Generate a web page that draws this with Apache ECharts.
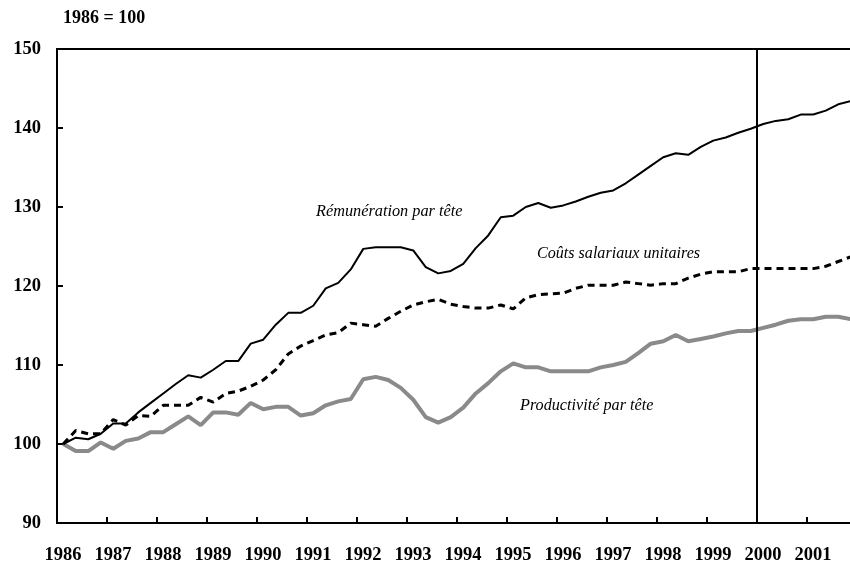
<!DOCTYPE html>
<html>
<head>
<meta charset="utf-8">
<script src="https://cdn.jsdelivr.net/npm/echarts@6/dist/echarts.min.js"></script>
<style>
html,body{margin:0;padding:0;background:#fff;}
#chart{width:850px;height:568px;}
</style>
</head>
<body>
<div id="chart"></div>
<script>
// Quarterly data, 1986Q1 .. 2001Q4
var startYear = 1986;
var yearTicks = ['1986','1987','1988','1989','1990','1991','1992','1993','1994','1995','1996','1997','1998','1999','2000','2001'];

var remuneration = [
  100.0, 100.8, 100.6, 101.3, 102.6, 102.6, 104.0, 105.2, 106.4, 107.6, 108.7, 108.4, 109.4, 110.5, 110.5, 112.7,
  113.2, 115.1, 116.6, 116.6, 117.5, 119.7, 120.4, 122.1, 124.7, 124.9, 124.9, 124.9, 124.5, 122.4, 121.6, 121.9,
  122.8, 124.8, 126.4, 128.7, 128.9, 130.0, 130.5, 129.9, 130.2, 130.7, 131.3, 131.8, 132.1, 133.0, 134.1, 135.2,
  136.3, 136.8, 136.6, 137.6, 138.4, 138.8, 139.4, 139.9, 140.5, 140.9, 141.1, 141.7, 141.7, 142.2, 143.0, 143.4
];
var coutsSalariaux = [
  100.0, 101.7, 101.3, 101.3, 103.1, 102.4, 103.6, 103.5, 104.9, 104.9, 104.9, 105.9, 105.3, 106.4, 106.7, 107.3,
  108.1, 109.4, 111.4, 112.4, 113.1, 113.8, 114.1, 115.3, 115.1, 114.9, 115.9, 116.8, 117.6, 118.0, 118.3, 117.7,
  117.4, 117.2, 117.2, 117.6, 117.1, 118.5, 118.9, 119.0, 119.1, 119.7, 120.1, 120.1, 120.1, 120.5, 120.3, 120.1,
  120.3, 120.3, 121.0, 121.5, 121.8, 121.8, 121.8, 122.2, 122.2, 122.2, 122.2, 122.2, 122.2, 122.5, 123.1, 123.7
];
var productivite = [
  100.0, 99.1, 99.1, 100.2, 99.4, 100.4, 100.7, 101.5, 101.5, 102.5, 103.5, 102.4, 104.0, 104.0, 103.7, 105.2,
  104.4, 104.7, 104.7, 103.6, 103.9, 104.9, 105.4, 105.7, 108.2, 108.5, 108.1, 107.1, 105.6, 103.4, 102.7, 103.4,
  104.6, 106.4, 107.7, 109.2, 110.2, 109.7, 109.7, 109.2, 109.2, 109.2, 109.2, 109.7, 110.0, 110.4, 111.5, 112.7,
  113.0, 113.8, 113.0, 113.3, 113.6, 114.0, 114.3, 114.3, 114.7, 115.1, 115.6, 115.8, 115.8, 116.1, 116.1, 115.8
];
var markerYear = 2000;

function toPairs(arr){
  return arr.map(function(v,i){ return [startYear + (i + 0.5)/4, v]; });
}

var serif = '"Liberation Serif", "DejaVu Serif", serif';
var chart = echarts.init(document.getElementById('chart'), null, {renderer:'canvas'});
chart.setOption({
  animation:false,
  backgroundColor:'#ffffff',
  grid:{left:57, top:49, width:800, height:474, outerBoundsMode:'none', containLabel:false,
        show:true, borderColor:'#000', borderWidth:2, backgroundColor:'transparent'},
  xAxis:{
    type:'value', min:1986, max:2002, interval:1,
    axisLine:{show:true, onZero:false, lineStyle:{color:'#000', width:2}},
    axisTick:{show:true, inside:true, length:6, lineStyle:{color:'#000', width:2}},
    splitLine:{show:false},
    axisLabel:{
      margin:23, color:'#000', fontFamily:serif, fontWeight:'bold', fontSize:18.5,
      padding:[0,0,0,12],
      formatter:function(v){ var s=String(Math.round(v)); return yearTicks.indexOf(s)>=0 ? s : ''; }
    }
  },
  yAxis:{
    type:'value', min:90, max:150, interval:10,
    axisLine:{show:true, lineStyle:{color:'#000', width:2}},
    axisTick:{show:true, inside:true, length:6, lineStyle:{color:'#000', width:2}},
    splitLine:{show:false},
    axisLabel:{margin:16, color:'#000', fontFamily:serif, fontWeight:'bold', fontSize:18.5}
  },
  series:[
    {
      name:'Productivité par tête', type:'line', data:toPairs(productivite), showSymbol:false, symbol:'none',
      lineStyle:{color:'#8a8a8a', width:4}, z:2
    },
    {
      name:'Coûts salariaux unitaires', type:'line', data:toPairs(coutsSalariaux), showSymbol:false, symbol:'none',
      lineStyle:{color:'#000', width:3, type:[7,5]}, z:3
    },
    {
      name:'Rémunération par tête', type:'line', data:toPairs(remuneration), showSymbol:false, symbol:'none',
      lineStyle:{color:'#000', width:2}, z:4,
      markLine:{
        silent:true, symbol:'none', label:{show:false},
        lineStyle:{color:'#000', width:2, type:'solid'},
        data:[{xAxis:markerYear}]
      }
    }
  ],
  graphic:[
    {type:'text', left:63, top:9, style:{text:'1986 = 100', fill:'#000', font:'bold 18px '+serif}},
    {type:'text', left:316, top:204, style:{text:'Rémunération par tête', fill:'#000', font:'italic 16.3px '+serif}},
    {type:'text', left:537, top:246, style:{text:'Coûts salariaux unitaires', fill:'#000', font:'italic 16.1px '+serif}},
    {type:'text', left:520, top:398, style:{text:'Productivité par tête', fill:'#000', font:'italic 16.2px '+serif}}
  ]
});
</script>
</body>
</html>
